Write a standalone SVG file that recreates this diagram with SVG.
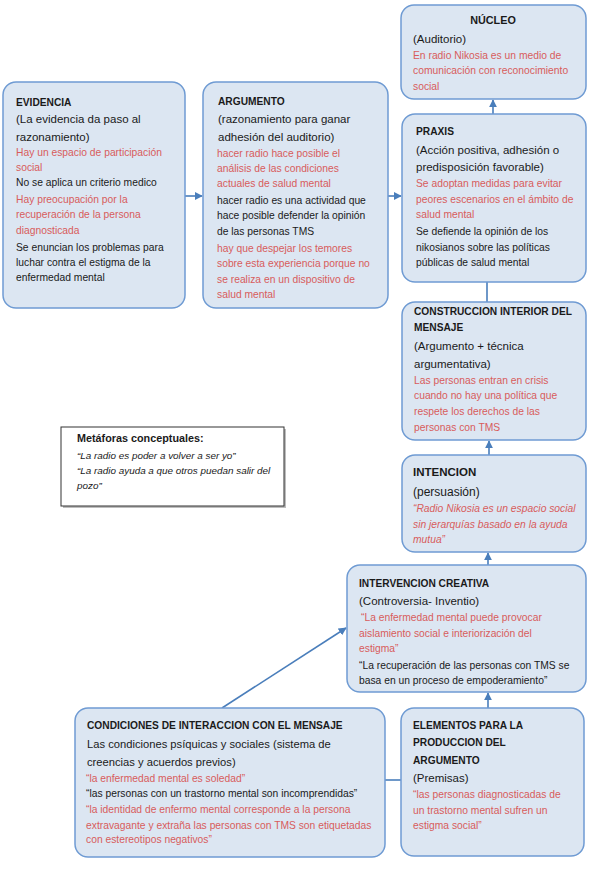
<svg xmlns="http://www.w3.org/2000/svg" width="589" height="869" viewBox="0 0 589 869">
<style>
.box{fill:#dce6f2;stroke:#6f9bd3;stroke-width:1.5}
text{font-family:"Liberation Sans",Arial,sans-serif;fill:#1a1a1a}
.h{font-weight:bold;font-size:10.2px}
.s{font-size:11.5px}
.b{font-size:10.3px}
.r{fill:#d85c5c}
.i{font-style:italic}
.con{stroke:#4a7ebb;stroke-width:1.6;fill:none}
</style>
<defs>
<marker id="ah" viewBox="0 0 10 10" refX="9" refY="5" markerWidth="5" markerHeight="5" orient="auto">
<path d="M0,0 L10,5 L0,10 z" fill="#4a7ebb"/>
</marker>
</defs>
<rect width="589" height="869" fill="#ffffff"/>
<g id="connectors">
<line class="con" x1="185" y1="196" x2="202" y2="196" marker-end="url(#ah)"/>
<line class="con" x1="388" y1="196" x2="401" y2="196" marker-end="url(#ah)"/>
<line class="con" x1="493" y1="114" x2="493" y2="100" marker-end="url(#ah)"/>
<line class="con" x1="487" y1="282" x2="487" y2="302"/>
<line class="con" x1="489" y1="455" x2="489" y2="441" marker-end="url(#ah)"/>
<line class="con" x1="488" y1="565" x2="488" y2="553" marker-end="url(#ah)"/>
<line class="con" x1="488" y1="708" x2="488" y2="693" marker-end="url(#ah)"/>
<line class="con" x1="222" y1="708" x2="346" y2="628" marker-end="url(#ah)"/>
<line class="con" x1="385" y1="780" x2="401" y2="780"/>
</g>
<g id="evidencia">
<rect class="box" x="3" y="82" width="182" height="226" rx="13"/>
<text class="h" x="16" y="106">EVIDENCIA</text>
<text class="s" x="16" y="123">(La evidencia da paso al</text>
<text class="s" x="16" y="141">razonamiento)</text>
<text class="b r" x="16" y="156">Hay un espacio de participación</text>
<text class="b r" x="16" y="171">social</text>
<text class="b" x="16" y="186">No se aplica un criterio medico</text>
<text class="b r" x="16" y="203">Hay preocupación por la</text>
<text class="b r" x="16" y="218">recuperación de la persona</text>
<text class="b r" x="16" y="234">diagnosticada</text>
<text class="b" x="16" y="251">Se enuncian los problemas para</text>
<text class="b" x="16" y="266">luchar contra el estigma de la</text>
<text class="b" x="16" y="281">enfermedad mental</text>
</g>
<g id="argumento">
<rect class="box" x="203" y="82" width="185" height="226" rx="13"/>
<text class="h" x="218" y="105">ARGUMENTO</text>
<text class="s" x="218" y="123">(razonamiento para ganar</text>
<text class="s" x="218" y="141">adhesión del auditorio)</text>
<text class="b r" x="217" y="157">hacer radio hace posible el</text>
<text class="b r" x="217" y="172">análisis de las condiciones</text>
<text class="b r" x="217" y="187">actuales de salud mental</text>
<text class="b" x="217" y="204">hacer radio es una actividad que</text>
<text class="b" x="217" y="219">hace posible defender la opinión</text>
<text class="b" x="217" y="235">de las personas TMS</text>
<text class="b r" x="217" y="252">hay que  despejar los temores</text>
<text class="b r" x="217" y="267">sobre esta experiencia porque no</text>
<text class="b r" x="217" y="283">se realiza en un dispositivo de</text>
<text class="b r" x="217" y="298">salud mental</text>
</g>
<g id="nucleo">
<rect class="box" x="401" y="5" width="185" height="94" rx="13"/>
<text class="h" x="493" y="24" text-anchor="middle" style="font-size:10.8px">NÚCLEO</text>
<text class="s" x="413" y="43">(Auditorio)</text>
<text class="b r" x="413" y="59">En radio Nikosia es un medio de</text>
<text class="b r" x="413" y="74">comunicación con reconocimiento</text>
<text class="b r" x="413" y="90">social</text>
</g>
<g id="praxis">
<rect class="box" x="402" y="114" width="184" height="168" rx="13"/>
<text class="h" x="416" y="135">PRAXIS</text>
<text class="s" x="416" y="154">(Acción positiva, adhesión o</text>
<text class="s" x="416" y="171">predisposición favorable)</text>
<text class="b r" x="416" y="187">Se adoptan medidas para evitar</text>
<text class="b r" x="416" y="203">peores escenarios en el ámbito de</text>
<text class="b r" x="416" y="218">salud mental</text>
<text class="b" x="416" y="235">Se defiende la opinión de los</text>
<text class="b" x="416" y="251">nikosianos sobre las políticas</text>
<text class="b" x="416" y="266">públicas de salud mental</text>
</g>
<g id="construccion">
<rect class="box" x="402" y="302" width="184" height="138" rx="13"/>
<text class="h" x="414" y="315">CONSTRUCCION INTERIOR DEL</text>
<text class="h" x="414" y="331">MENSAJE</text>
<text class="s" x="414" y="350">(Argumento + técnica</text>
<text class="s" x="414" y="368">argumentativa)</text>
<text class="b r" x="414" y="384">Las personas entran en crisis</text>
<text class="b r" x="414" y="399">cuando no hay una política que</text>
<text class="b r" x="414" y="415">respete los derechos de las</text>
<text class="b r" x="414" y="431">personas con TMS</text>
</g>
<g id="metaforas">
<rect x="63" y="429" width="223" height="79" fill="#bdbdbd"/>
<rect x="61" y="427" width="223" height="79" fill="#ffffff" stroke="#333333" stroke-width="1"/>
<text class="h" x="77" y="442" style="font-size:10.8px">Metáforas conceptuales:</text>
<text class="b i" x="77" y="459" style="font-size:9.9px">“La radio es poder a volver a ser yo”</text>
<text class="b i" x="77" y="474" style="font-size:9.9px">“La radio ayuda a que otros puedan salir del</text>
<text class="b i" x="77" y="489" style="font-size:9.9px">pozo”</text>
</g>
<g id="intencion">
<rect class="box" x="402" y="455" width="184" height="97" rx="13"/>
<text class="h" x="413" y="476" style="font-size:11.5px">INTENCION</text>
<text class="s" x="413" y="496" style="font-size:12px">(persuasión)</text>
<text class="b r i" x="413" y="512">“Radio Nikosia es un espacio social</text>
<text class="b r i" x="413" y="528">sin jerarquías basado en la ayuda</text>
<text class="b r i" x="413" y="543">mutua”</text>
</g>
<g id="intervencion">
<rect class="box" x="347" y="565" width="239" height="127" rx="13"/>
<text class="h" x="359" y="587">INTERVENCION CREATIVA</text>
<text class="s" x="359" y="605">(Controversia- Inventio)</text>
<text class="b r" x="361" y="621"> “La enfermedad mental puede provocar</text>
<text class="b r" x="359" y="637">aislamiento social e interiorización del</text>
<text class="b r" x="359" y="652">estigma”</text>
<text class="b" x="359" y="669">“La recuperación de las personas con TMS se</text>
<text class="b" x="359" y="684">basa en un proceso de empoderamiento”</text>
</g>
<g id="condiciones">
<rect class="box" x="75" y="708" width="310" height="149" rx="13"/>
<text class="h" x="87" y="729">CONDICIONES DE INTERACCION CON EL MENSAJE</text>
<text class="s" x="87" y="748" style="font-size:11.2px">Las condiciones psíquicas y sociales (sistema de</text>
<text class="s" x="87" y="766" style="font-size:11.2px">creencias y acuerdos previos)</text>
<text class="b r" x="86" y="782">“la enfermedad mental es soledad”</text>
<text class="b" x="86" y="797">“las personas con un trastorno mental son incomprendidas”</text>
<text class="b r" x="86" y="813">“la identidad de enfermo mental corresponde a la persona</text>
<text class="b r" x="86" y="829">extravagante y extraña las personas con TMS son etiquetadas</text>
<text class="b r" x="86" y="843">con estereotipos negativos”</text>
</g>
<g id="elementos">
<rect class="box" x="401" y="708" width="183" height="148" rx="13"/>
<text class="h" x="413" y="729">ELEMENTOS PARA LA</text>
<text class="h" x="413" y="746">PRODUCCION DEL</text>
<text class="h" x="413" y="764">ARGUMENTO</text>
<text class="s" x="413" y="782">(Premisas)</text>
<text class="b r" x="413" y="798">“las personas diagnosticadas de</text>
<text class="b r" x="413" y="814">un trastorno mental sufren un</text>
<text class="b r" x="413" y="829">estigma social”</text>
</g>
</svg>
